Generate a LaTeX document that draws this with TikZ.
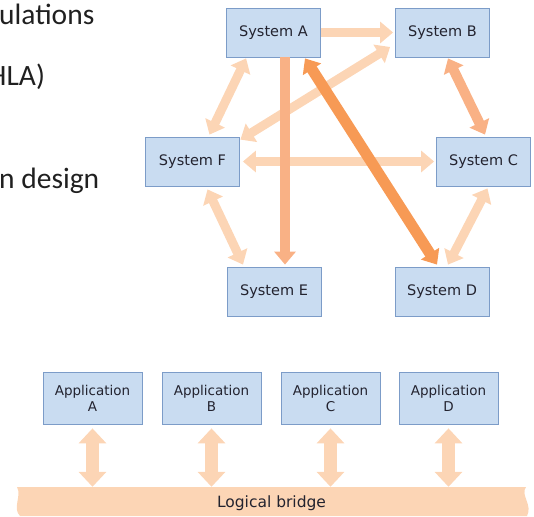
\documentclass[tikz,border=0pt]{standalone}
\usepackage{fontspec}
\setmainfont{Carlito}
\newfontfamily\dejavu{DejaVu Sans}
\usetikzlibrary{arrows.meta,calc}
\definecolor{boxfill}{HTML}{C9DCF1}
\definecolor{boxline}{HTML}{7C9CC8}
\definecolor{peach}{HTML}{FCD5B5}
\definecolor{midorange}{HTML}{F9B185}
\definecolor{darkorange}{HTML}{F79A55}
\definecolor{txt}{HTML}{23232F}
\definecolor{slidetxt}{HTML}{202020}
\begin{document}
\begin{tikzpicture}[x=1pt,y=-1pt,
  sys/.style={draw=boxline, line width=0.8pt, fill=boxfill, minimum width=94pt,
    minimum height=49pt, inner sep=0pt, text=txt,
    font=\dejavu\fontsize{14.5}{16}\selectfont},
  app/.style={sys, minimum width=99pt, minimum height=52pt, align=center,
    font=\dejavu\fontsize{13.5}{16}\selectfont},
  lt/.style={line width=9pt, draw=peach},
  md/.style={line width=10pt, draw=midorange},
  dk/.style={line width=11pt, draw=darkorange},
  onehead/.style={arrows={-Triangle[width=21pt,length=13pt]}},
  twohead/.style={arrows={Triangle[width=21pt,length=13pt]-Triangle[width=21pt,length=13pt]}},
  apparrow/.style={line width=13pt, draw=peach,
    arrows={Triangle[width=27pt,length=15pt]-Triangle[width=27pt,length=15pt]}},
  slide/.style={anchor=base west, inner sep=0pt, text=slidetxt,
    font=\fontsize{29.5}{31}\selectfont},
  bridgetext/.style={minimum width=507pt, minimum height=32pt, inner sep=0pt,
    text=txt, font=\dejavu\fontsize{15.5}{17}\selectfont}
]
\path[use as bounding box] (0,0) rectangle (534,516);

% slide text, cut at the left edge
\node[slide] (t1) at (-1,25) {ulations};
\node[slide] (t2) at (-12,85) {HLA)};
\node[slide] (t3) at (-1,188) {n design};

% systems
\node[sys] (A) at (273.5,32.5) {System A};
\node[sys] (B) at (442.5,32.5) {System B};
\node[sys] (F) at (192.5,161.5) {System F};
\node[sys] (C) at (483.5,161.5) {System C};
\node[sys] (E) at (274,291.5) {System E};
\node[sys] (D) at (442,291.5) {System D};

% light links
\draw[lt,onehead] (A.east) -- ($(B.west)+(-2,0)$);
\draw[lt,twohead] ($(B.west)+(-5,14.5)$) -- ($(F.north east)+(0.5,3)$);
\draw[lt,twohead] ($(A.south west)+(20,1)$) -- ($(F.north)+(17,-2)$);
\draw[lt,twohead] ($(F.east)+(3,0)$) -- ($(C.west)+(-2,0)$);
\draw[lt,twohead] ($(F.south)+(15,3)$) -- ($(E.north)+(-31,-2)$);
\draw[lt,twohead] ($(C.south)+(4,2)$) -- ($(D.north)+(6,-2)$);
% medium links
\draw[md,onehead] ($(A.south)+(11.5,0)$) -- ($(E.north)+(11,-2)$);
\draw[md,twohead] ($(B.south)+(5.5,1)$) -- ($(C.north)+(1.5,-2)$);
% dark link
\draw[dk,twohead] ($(A.south)+(31.5,1)$) -- ($(D.north)+(-5,-2)$);

% logical bridge
\fill[peach] (17,487) -- (526,487) .. controls (520,495) and (533,505) .. (527,516)
  -- (20,516) .. controls (12,508) and (22,496) .. (17,487) -- cycle;
\node[bridgetext] (LB) at (271.5,503) {Logical bridge};

% applications
\node[app] (AA) at (92.5,398) {Application\\A};
\node[app] (AB) at (211.5,398) {Application\\B};
\node[app] (AC) at (330.5,398) {Application\\C};
\node[app] (AD) at (448.5,398) {Application\\D};

\foreach \n in {AA,AB,AC,AD}
  \draw[apparrow] ($(\n.south)+(0,4)$) -- (\n.south |- LB.north);
\end{tikzpicture}
\end{document}
